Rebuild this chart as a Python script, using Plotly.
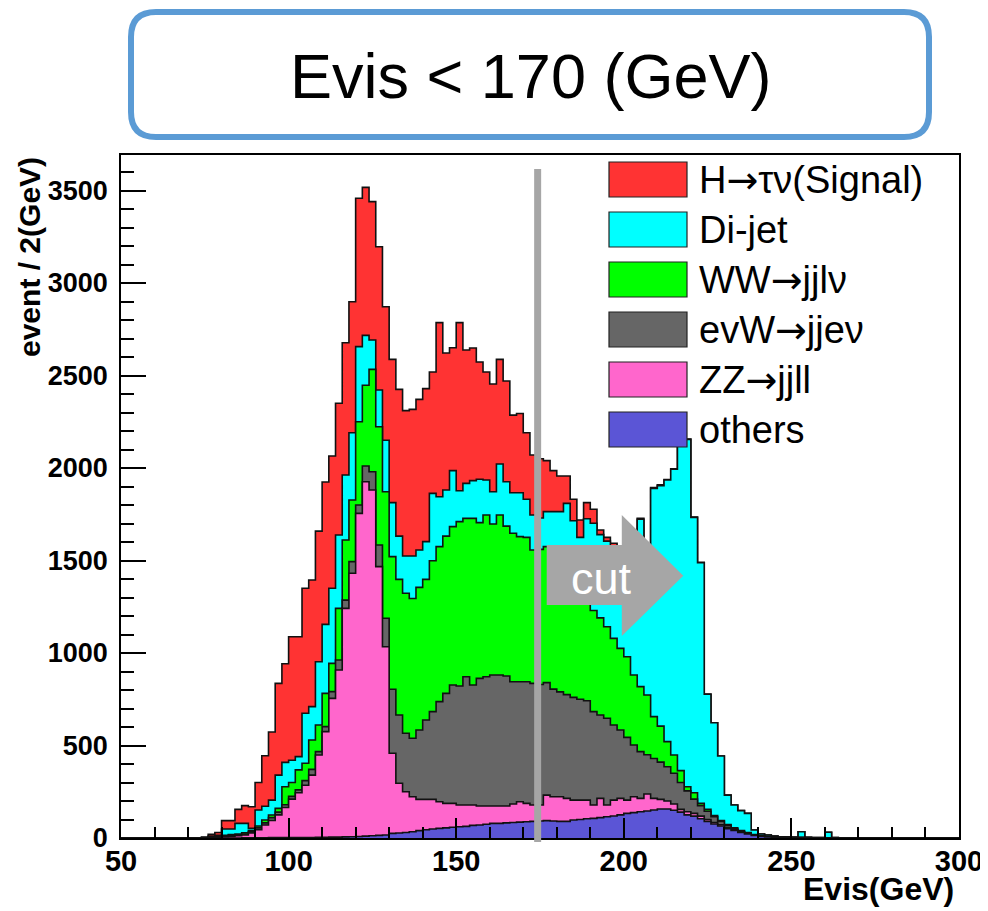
import numpy as np
import plotly.graph_objects as go

# ---------------- data (events per 2 GeV bin, bins starting at 74 GeV) ----------------
bin_width = 2
first_bin = 74

signal = [2, 10, 15, 45, 45, 76, 96, 117, 149, 273,
          368, 496, 533, 668, 648, 676, 685, 706, 769, 715,
          712, 715, 708, 802, 800, 748, 774, 722, 774, 793,
          786, 793, 814, 827, 656, 941, 741, 664, 909, 721,
          717, 634, 584, 582, 565, 544, 420, 429, 360, 324,
          320, 276, 222, 193, 148, 116, 94, 87, 76, 25,
          20, 13, 20, 10, 8, 5, 5, 4, 4, 3,
          3, 2, 2, 2, 2, 1, 0, 0, 0, 0,
          0, 0, 0, 0, 0, 0, 0, 0, 0, 0,
          0, 0, 0, 0, 0, 0]

dijet = [2, 6, 8, 35, 31, 57, 51, 12, 86, 75,
         81, 180, 132, 120, 72, 270, 180, 342, 373, 406,
         397, 351, 364, 406, 270, 159, 199, 278, 292, 234,
         201, 229, 202, 204, 364, 270, 249, 303, 167, 189,
         204, 234, 189, 175, 276, 240, 219, 237, 206, 189,
         170, 189, 224, 264, 349, 295, 255, 416, 471, 450,
         463, 501, 535, 570, 639, 905, 727, 1234, 1300, 1414,
         1544, 1766, 1878, 1488, 1301, 622, 501, 348, 159, 123,
         108, 104, 24, 9, 7, 3, 1, 1, 1, 32,
         2, 2, 2, 30, 1, 1]

ww = [0, 1, 2, 4, 5, 5, 6, 7, 10, 15,
      14, 20, 97, 75, 108, 94, 159, 144, 180, 153,
      279, 325, 333, 450, 436, 553, 639, 684, 717, 733,
      757, 756, 771, 760, 816, 838, 850, 856, 888, 856,
      901, 842, 874, 816, 865, 810, 802, 784, 780, 721,
      730, 735, 735, 710, 685, 660, 620, 568, 547, 525,
      495, 468, 441, 436, 378, 351, 323, 226, 195, 136,
      99, 64, 22, 35, 12, 10, 7, 5, 5, 5,
      4, 3, 2, 2, 1, 1, 1, 1, 1, 0,
      1, 0, 0, 0, 1, 0]

evw = [1, 1, 2, 3, 4, 5, 6, 6, 10, 12,
       15, 15, 15, 15, 15, 25, 31, 18, 27, 36,
       54, 45, 63, 45, 85, 99, 117, 154, 346, 369,
       316, 316, 375, 429, 474, 541, 595, 640, 644, 694,
       649, 690, 699, 708, 708, 703, 661, 649, 658, 658,
       652, 608, 582, 567, 561, 555, 545, 537, 505, 451,
       469, 406, 370, 339, 280, 253, 212, 216, 201, 185,
       166, 145, 113, 77, 57, 45, 31, 18, 12, 5,
       3, 2, 2, 1, 1, 1, 0, 0, 0, 0,
       0, 0, 0, 0, 0, 0]

zz = [0, 2, 3, 7, 9, 12, 15, 26, 44, 69,
      93, 123, 163, 208, 242, 282, 337, 445, 571, 750,
      903, 1235, 1424, 1747, 1916, 1869, 1453, 1018, 433, 269,
      220, 189, 169, 164, 160, 144, 132, 129, 117, 115,
      110, 103, 99, 94, 94, 91, 100, 110, 99, 88,
      86, 138, 131, 133, 124, 108, 105, 101, 72, 104,
      63, 86, 89, 72, 86, 72, 92, 63, 52, 43,
      34, 15, 17, 15, 14, 10, 8, 7, 6, 4,
      3, 2, 1, 1, 1, 0, 1, 0, 0, 0,
      0, 0, 0, 0, 0, 0]

others = [0, 0, 0, 0, 0, 0, 1, 1, 1, 1,
          2, 2, 2, 2, 3, 3, 3, 4, 4, 5,
          5, 6, 7, 8, 10, 12, 14, 16, 25, 27,
          30, 34, 40, 45, 49, 52, 55, 58, 61, 63,
          68, 70, 74, 79, 79, 82, 84, 86, 88, 90,
          92, 94, 92, 90, 90, 97, 100, 104, 106, 110,
          115, 119, 125, 133, 137, 142, 146, 151, 157, 157,
          150, 140, 125, 118, 104, 90, 76, 65, 50, 41,
          30, 22, 14, 9, 6, 5, 3, 3, 2, 2,
          1, 1, 1, 1, 0, 0]

ARW = "<span style='font-family:DejaVu Sans'>→</span>"
series_names = ["H" + ARW + "τν(Signal)", "Di-jet", "WW" + ARW + "jjlν",
                "evW" + ARW + "jjeν", "ZZ" + ARW + "jjll", "others"]
series_colors = ["#FF3333", "#00FFFF", "#00FF00", "#666666", "#FF66CC", "#5B55D6"]
cut_value = 174.3

# ---------------- build stacked step histograms ----------------
x_min, x_max = 50, 300
edges = np.arange(x_min, x_max + bin_width, bin_width)
nbins = len(edges) - 1
i0 = (first_bin - x_min) // bin_width


def pad(vals):
    arr = np.zeros(nbins)
    arr[i0:i0 + len(vals)] = vals
    return arr


# bottom -> top order of the stack
stack_order = [others, zz, evw, ww, dijet, signal]
cum = np.cumsum([pad(v) for v in stack_order], axis=0)
colors_bottom_up = series_colors[::-1]

fig = go.Figure()
for level in range(len(stack_order) - 1, -1, -1):
    yv = np.append(cum[level], cum[level][-1])
    fig.add_trace(go.Scatter(
        x=edges, y=yv, mode="lines", line_shape="hv",
        line=dict(color="#111111", width=1.6),
        fill="tozeroy", fillcolor=colors_bottom_up[level],
        showlegend=False, hoverinfo="skip"))

# ---------------- geometry (screen pixels; page body has an 8px margin) ----------------
OFF = 8
SW, SH = 988, 911
L, R, T, B = 121, 959, 155, 838      # plot frame in screen pixels
FW, FH = SW - OFF, SH - OFF


def px(xp):
    return (xp - L) / (R - L)


def py(yp):
    return (B - yp) / (B - T)


font_fam = "Liberation Sans, Arial, Helvetica, sans-serif"
shapes = []
annotations = []

# cut line
shapes.append(dict(type="line", xref="x", yref="paper", x0=cut_value, x1=cut_value,
                   y0=py(842), y1=py(169), line=dict(color="#A6A6A6", width=7), layer="above"))

# cut arrow
arrow_path = ("M 177.0,1584 L 199.4,1584 L 199.4,1746 L 217.75,1418 "
              "L 199.4,1092 L 199.4,1259 L 177.0,1259 Z")
shapes.append(dict(type="path", xref="x", yref="y", path=arrow_path,
                   fillcolor="#A6A6A6", line=dict(width=0), layer="above"))
annotations.append(dict(x=193.2, y=1405, xref="x", yref="y", text="cut", showarrow=False,
                        xanchor="center", yanchor="middle",
                        font=dict(family=font_fam, size=45, color="white")))

# rounded title box
bx0, bx1, byt, byb = px(131), px(929), py(12), py(137)
rx, ry = 25 / (R - L), 25 / (B - T)
box_path = (f"M {bx0+rx},{byt} L {bx1-rx},{byt} Q {bx1},{byt} {bx1},{byt-ry} "
            f"L {bx1},{byb+ry} Q {bx1},{byb} {bx1-rx},{byb} "
            f"L {bx0+rx},{byb} Q {bx0},{byb} {bx0},{byb+ry} "
            f"L {bx0},{byt-ry} Q {bx0},{byt} {bx0+rx},{byt} Z")
shapes.append(dict(type="path", xref="paper", yref="paper", path=box_path,
                   line=dict(color="#5B9BD5", width=6), fillcolor="rgba(0,0,0,0)"))
annotations.append(dict(x=px(530), y=py(76), xref="paper", yref="paper",
                        xanchor="center", yanchor="middle",
                        text="Evis &lt; 170 (GeV)", showarrow=False,
                        font=dict(family=font_fam, size=63, color="black")))

# legend (drawn manually)
for k, (name, col) in enumerate(zip(series_names, series_colors)):
    top = 162 + 50 * k
    shapes.append(dict(type="rect", xref="paper", yref="paper",
                       x0=px(609), x1=px(687), y0=py(top + 35), y1=py(top),
                       fillcolor=col, line=dict(color="#222222", width=1.2), layer="above"))
    annotations.append(dict(x=px(697), y=py(top + 18), xref="paper", yref="paper",
                            xanchor="left", yanchor="middle", text=name, showarrow=False,
                            font=dict(family=font_fam, size=38, color="black")))

# axis titles
annotations.append(dict(x=px(956), y=py(889), xref="paper", yref="paper",
                        xanchor="right", yanchor="middle", text="Evis(GeV)", showarrow=False,
                        font=dict(family=font_fam, size=32, color="black", weight="bold")))
annotations.append(dict(x=px(29), y=py(155), xref="paper", yref="paper",
                        xanchor="center", yanchor="top", text="event / 2(GeV)", textangle=-90,
                        showarrow=False,
                        font=dict(family=font_fam, size=30, color="black", weight="bold")))

fig.update_layout(
    width=FW, height=FH,
    margin=dict(l=L - OFF, r=FW - (R - OFF), t=T - OFF, b=FH - (B - OFF), pad=0),
    paper_bgcolor="white", plot_bgcolor="white",
    showlegend=False,
    shapes=shapes, annotations=annotations,
    xaxis=dict(range=[x_min, x_max], tickvals=[50, 100, 150, 200, 250, 300],
               ticks="inside", ticklen=20, tickwidth=2, tickcolor="black",
               minor=dict(ticks="inside", ticklen=11, dtick=10, tickwidth=1.5, tickcolor="black"),
               showline=True, mirror=True, linecolor="black", linewidth=1.5,
               showgrid=False, zeroline=False, ticklabelstandoff=-4, automargin=False,
               tickfont=dict(family=font_fam, size=29, color="black", weight="bold")),
    yaxis=dict(range=[0, 3692], tickvals=[0, 500, 1000, 1500, 2000, 2500, 3000, 3500],
               ticks="inside", ticklen=25, tickwidth=2, tickcolor="black",
               minor=dict(ticks="inside", ticklen=13, dtick=100, tickwidth=1.5, tickcolor="black"),
               showline=True, mirror=True, linecolor="black", linewidth=1.5,
               showgrid=False, zeroline=False, ticklabelstandoff=6, automargin=False,
               tickfont=dict(family=font_fam, size=27, color="black", weight="bold")),
)

fig.write_html("out.html")
